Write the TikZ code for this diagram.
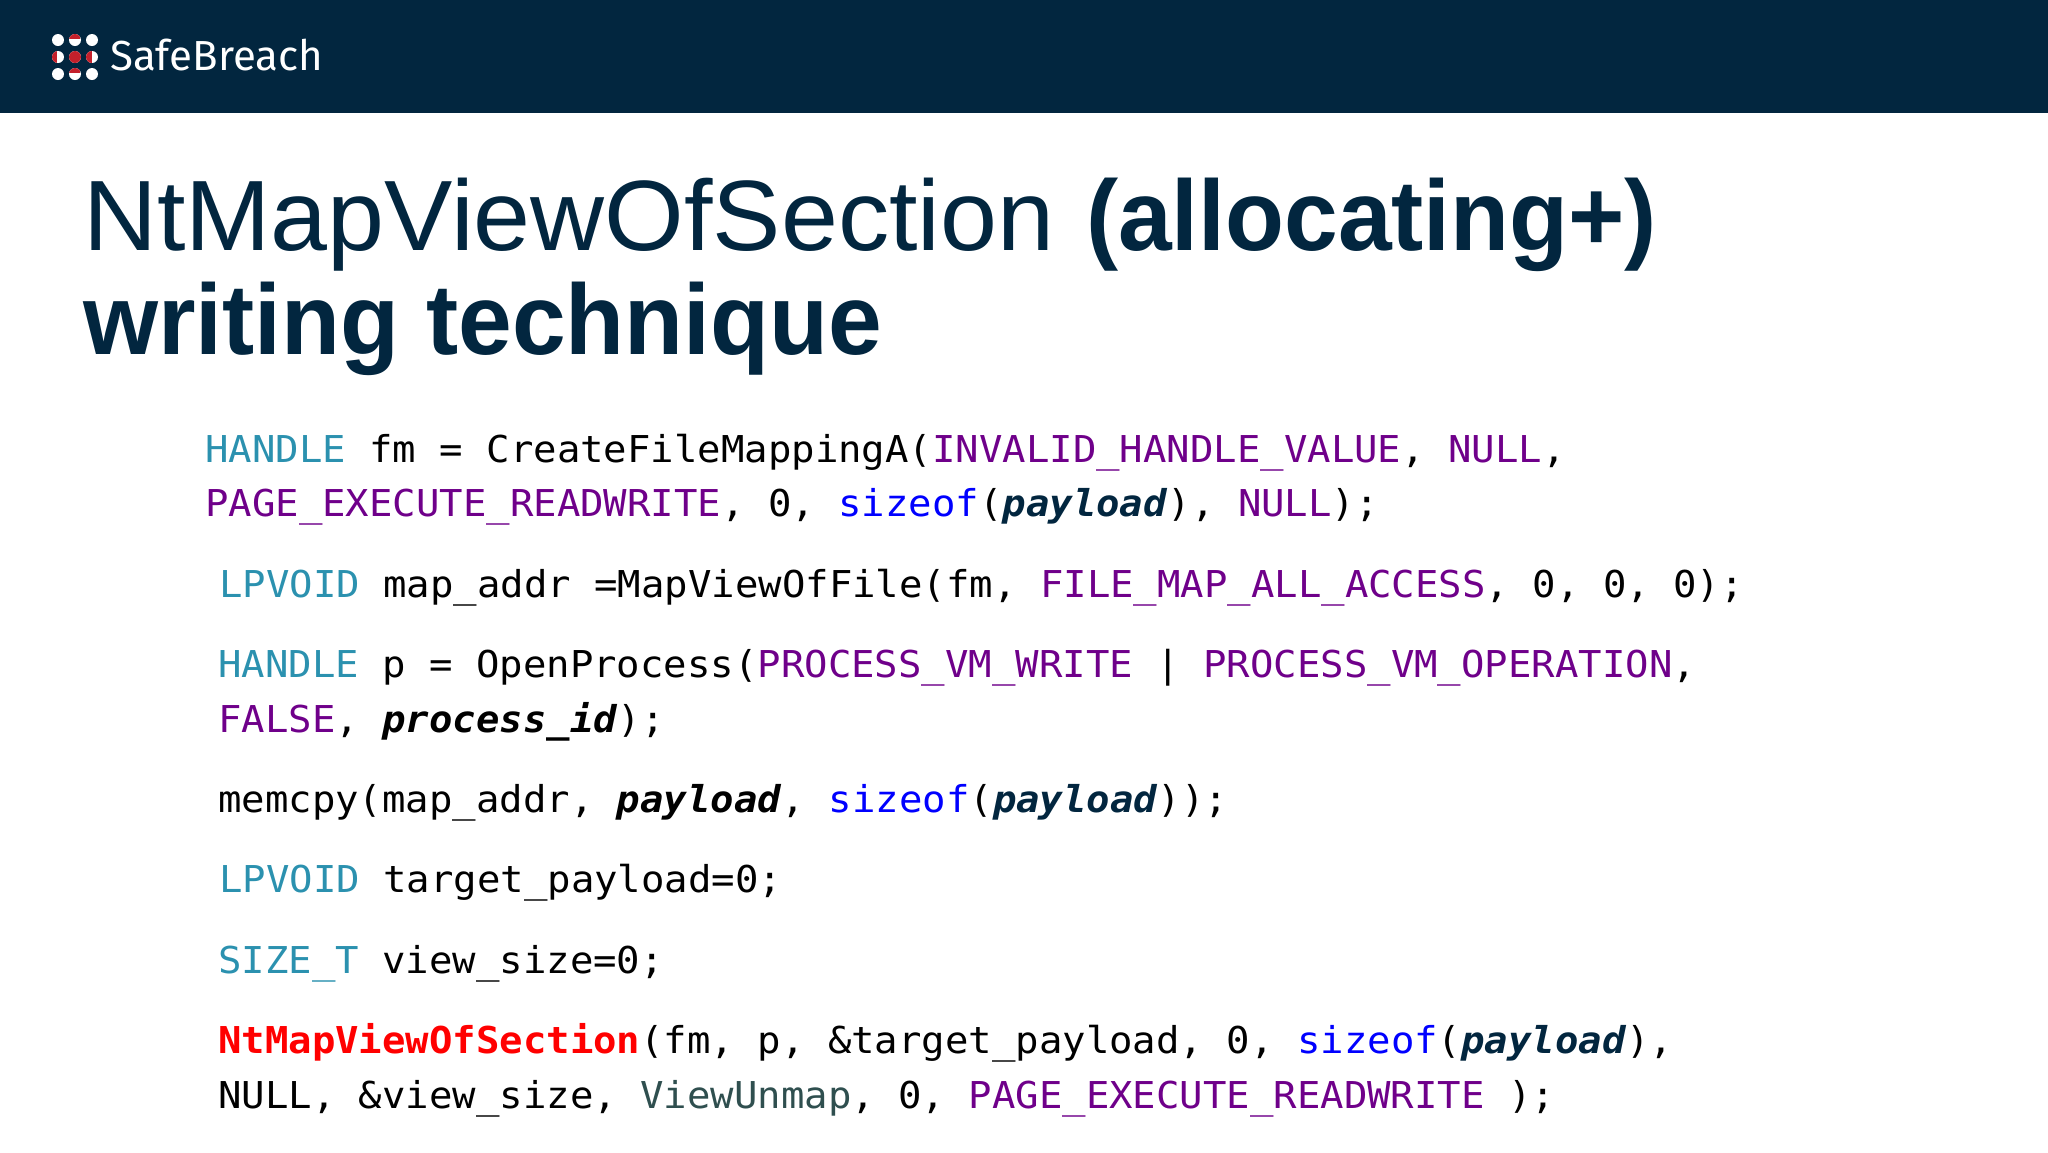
\documentclass[tikz,border=0pt]{standalone}
\usepackage{fontspec}
\setmainfont{Liberation Sans}
\newfontfamily\codefont[FakeStretch=1.053]{DejaVu Sans Mono}
\newfontfamily\logofont{Fira Sans}
\newfontfamily\titlefont[FakeStretch=1.024]{Liberation Sans}
\newfontfamily\titleboldfont[FakeStretch=0.965]{Liberation Sans}
\definecolor{navy}{HTML}{02263F}
\definecolor{logored}{HTML}{C4202B}
\definecolor{typecol}{HTML}{2B91AF}
\definecolor{constcol}{HTML}{6F008A}
\definecolor{keycol}{HTML}{0000FF}
\definecolor{viewcol}{HTML}{2F4F4F}
\newcommand{\ty}[1]{\textcolor{typecol}{#1}}
\newcommand{\cn}[1]{\textcolor{constcol}{#1}}
\newcommand{\kw}[1]{\textcolor{keycol}{#1}}
\newcommand{\pv}[1]{\textbf{\textit{#1}}}
\newcommand{\tb}[1]{{\titleboldfont\bfseries #1}}
\tikzset{
    codeline/.style={anchor=base west,inner sep=0pt,font=\codefont\fontsize{37}{37}\selectfont},
    titleline/.style={anchor=base west,inner sep=0pt,text=navy,font=\titlefont\fontsize{100}{100}\selectfont},
    logodot/.style={fill=white}
}
\begin{document}
\begin{tikzpicture}[x=1pt,y=-1pt]
    \useasboundingbox (0,0) rectangle (2048,1152);
    \fill[navy] (0,0) rectangle (2048,113);
    \foreach \x in {58,75,92}
        \foreach \y in {40,57,74}
            \fill[logodot] (\x,\y) circle (6);
    \fill[logored] (75,57) circle (6);
    \begin{scope}
        \clip (75,40) circle (6);
        \fill[logored] (69,34) rectangle (81,39);
    \end{scope}
    \begin{scope}
        \clip (75,74) circle (6);
        \fill[logored] (69,68) rectangle (81,73);
    \end{scope}
    \begin{scope}
        \clip (58,57) circle (6);
        \fill[logored] (52,51) rectangle (57,63);
    \end{scope}
    \begin{scope}
        \clip (92,57) circle (6);
        \fill[logored] (86,51) rectangle (92,63);
    \end{scope}
    \node[anchor=base west,inner sep=0pt,text=white,font=\logofont\fontsize{42}{42}\selectfont] (brand) at (110,70) {SafeBreach};
    \node[titleline] (title a) at (83,250) {NtMapViewOfSection \hspace{3pt}\tb{(allocating+)}};
    \node[titleline] (title b) at (83,354) {\tb{writing technique}};
    \node[codeline] (fm a) at (205,462) {\ty{HANDLE} fm = CreateFileMappingA(\cn{INVALID\_HANDLE\_VALUE}, \cn{NULL},};
    \node[codeline] (fm b) at (205,516) {\cn{PAGE\_EXECUTE\_READWRITE}, 0, \kw{sizeof}(\textcolor{navy}{\pv{payload}}), \cn{NULL});};
    \node[codeline] (map) at (219,597) {\ty{LPVOID} map\_addr =MapViewOfFile(fm, \cn{FILE\_MAP\_ALL\_ACCESS}, 0, 0, 0);};
    \node[codeline] (proc a) at (218,677) {\ty{HANDLE} p = OpenProcess(\cn{PROCESS\_VM\_WRITE} | \cn{PROCESS\_VM\_OPERATION},};
    \node[codeline] (proc b) at (218,732) {\cn{FALSE}, \pv{process\_id});};
    \node[codeline] (copy) at (218,812) {memcpy(map\_addr, \pv{payload}, \kw{sizeof}(\textcolor{navy}{\pv{payload}}));};
    \node[codeline] (target) at (219,892) {\ty{LPVOID} target\_payload=0;};
    \node[codeline] (size) at (218,973) {\ty{SIZE\_T} view\_size=0;};
    \node[codeline] (nt a) at (218,1053) {\textcolor{red}{\textbf{NtMapViewOfSection}}(fm, p, \&target\_payload, 0, \kw{sizeof}(\textcolor{navy}{\pv{payload}}),};
    \node[codeline] (nt b) at (218,1108) {NULL, \&view\_size, \textcolor{viewcol}{ViewUnmap}, 0, \cn{PAGE\_EXECUTE\_READWRITE} );};
\end{tikzpicture}
\end{document}
